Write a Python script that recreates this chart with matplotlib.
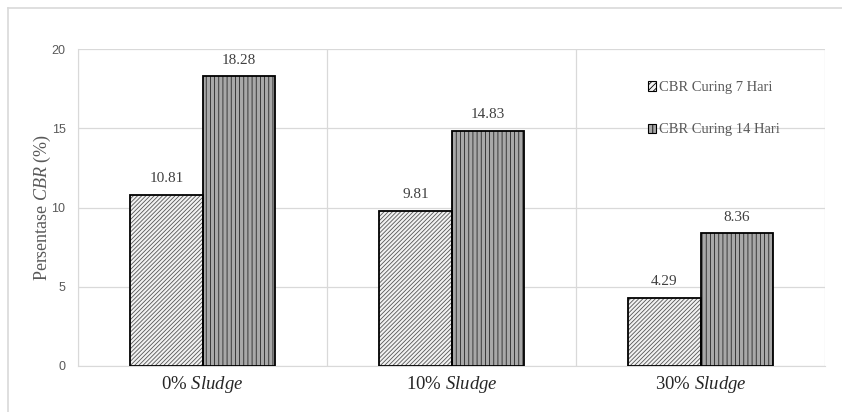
import numpy as np
import matplotlib.pyplot as plt
from matplotlib.patches import Patch
from matplotlib.lines import Line2D

plt.rcParams['font.family'] = ['Liberation Serif', 'DejaVu Serif']
plt.rcParams['mathtext.fontset'] = 'custom'
plt.rcParams['mathtext.rm'] = 'Liberation Serif'
plt.rcParams['mathtext.it'] = 'Liberation Serif:italic'
plt.rcParams['hatch.linewidth'] = 0.6

# data
groups = ['0% $\\mathit{Sludge}$', '10% $\\mathit{Sludge}$', '30% $\\mathit{Sludge}$']
cbr_7 = [10.81, 9.81, 4.29]
cbr_14 = [18.28, 14.83, 8.36]
series_names = ['CBR Curing 7 Hari', 'CBR Curing 14 Hari']

fig = plt.figure(figsize=(8.42, 4.12), dpi=100)
ax = fig.add_axes([78 / 842, (412 - 366) / 412, (825 - 78) / 842, (366 - 49) / 412])

# outer frame
fig.add_artist(Line2D([8 / 842, 8 / 842], [0, 1 - 8 / 412], color='#d9d9d9', lw=1.2,
                      transform=fig.transFigure))
fig.add_artist(Line2D([8 / 842, 1], [1 - 8 / 412, 1 - 8 / 412], color='#d9d9d9', lw=1.2,
                      transform=fig.transFigure))

x = np.arange(len(groups))
w = 0.29
off = w / 2

# hatch fills first, then black outlines on top
ax.bar(x - off, cbr_7, w, color='#f2f2f2', edgecolor='#555555', hatch='////////', lw=0, zorder=3)
ax.bar(x + off, cbr_14, w, color='#a8a8a8', edgecolor='#262626', hatch='||||', lw=0, zorder=3)
ax.bar(x - off, cbr_7, w, fill=False, edgecolor='black', lw=1.3, zorder=4)
ax.bar(x + off, cbr_14, w, fill=False, edgecolor='black', lw=1.3, zorder=4)

for xi, v in zip(x - off, cbr_7):
    ax.annotate(f'{v:.2f}', (xi, v), xytext=(0, 7), textcoords='offset points',
                ha='center', va='bottom', fontsize=11, color='#404040')
for xi, v in zip(x + off, cbr_14):
    ax.annotate(f'{v:.2f}', (xi, v), xytext=(0, 7), textcoords='offset points',
                ha='center', va='bottom', fontsize=11, color='#404040')

ax.set_xlim(-0.5, 2.5)
ax.set_ylim(0, 20)
ax.set_yticks([0, 5, 10, 15, 20])
ax.set_xticks(x)
ax.set_xticklabels(groups, fontsize=13.5, color='#262626')
ax.set_xticks([-0.5, 0.5, 1.5, 2.5], minor=True)
ax.tick_params(axis='x', which='both', length=0, pad=6)
ax.tick_params(axis='y', length=0, pad=9, labelsize=9, labelcolor='#595959')
for lab in ax.get_yticklabels():
    lab.set_family('Liberation Sans')

ax.grid(axis='y', color='#d9d9d9', lw=0.9, zorder=0)
ax.grid(axis='x', which='minor', color='#d9d9d9', lw=0.9, zorder=0)
for s in ax.spines.values():
    s.set_visible(False)
ax.spines['left'].set_visible(True)
ax.spines['left'].set_color('#d9d9d9')
ax.spines['bottom'].set_visible(True)
ax.spines['bottom'].set_color('#d9d9d9')

ax.set_ylabel('Persentase $\\mathit{CBR}$ (%)', fontsize=13, color='#595959', labelpad=-1)

handles = [Patch(facecolor='#f2f2f2', edgecolor='black', hatch='//////', lw=0.8),
           Patch(facecolor='#a8a8a8', edgecolor='black', hatch='|||', lw=0.8)]
ax.legend(handles, series_names, loc='upper left', bbox_to_anchor=(0.745, 0.94),
          frameon=False, fontsize=10.5, labelcolor='#595959', handlelength=0.6,
          handleheight=0.6, handletextpad=0.2, labelspacing=2.0)

fig.savefig('out.png', dpi=100)
